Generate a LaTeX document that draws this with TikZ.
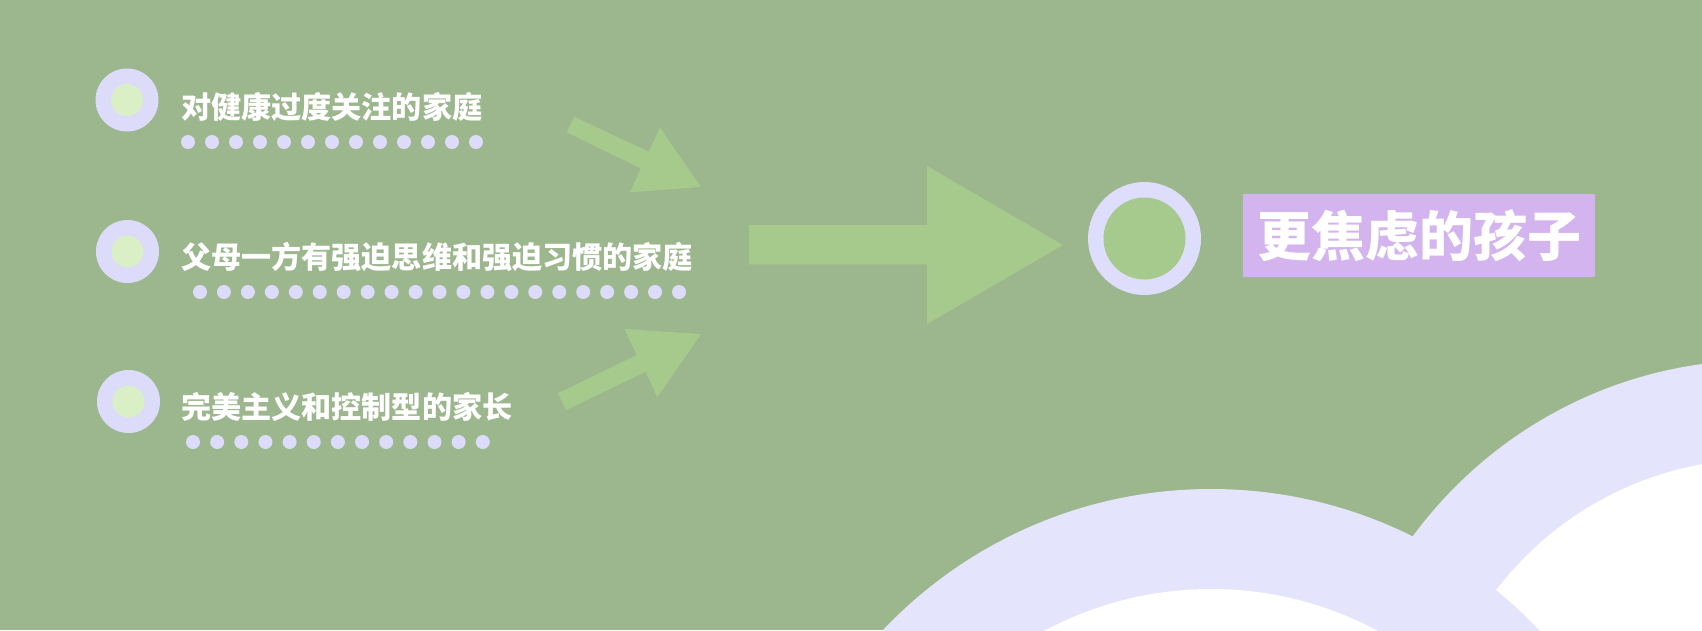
\documentclass[tikz,border=0pt]{standalone}
\usepackage{fontspec}
\newfontfamily\cjk{Noto Sans CJK SC}
\definecolor{bg}{HTML}{9CB78E}
\definecolor{arr}{HTML}{A5CA8C}
\definecolor{lav}{HTML}{DCDBFA}
\definecolor{lavbig}{HTML}{DEDDFB}
\definecolor{pale}{HTML}{DAEFC5}
\definecolor{ring}{HTML}{E4E4FC}
\definecolor{boxc}{HTML}{D3B4EF}
\definecolor{bigin}{HTML}{A6CA8D}
\tikzset{
  outerc/.style={circle, fill=lav, minimum size=63pt, inner sep=0pt},
  innerc/.style={circle, fill=pale, minimum size=32pt, inner sep=0pt},
  dotc/.style={circle, fill=lav, minimum size=14pt, inner sep=0pt},
  lbl/.style={anchor=west, inner sep=0pt, text=white, font=\cjk\bfseries\fontsize{30.1}{33}\selectfont},
  blockarrow/.style={fill=arr},
}
\begin{document}
\begin{tikzpicture}[x=1pt,y=-1pt]
\useasboundingbox (0,0) rectangle (1702,630);
\fill[bg] (0,0) rectangle (1702,630);
\begin{scope}
  \clip (0,0) rectangle (1702,630);
  \fill[ring] (1761,792) circle (432pt);
  \fill[white] (1761,792) circle (333pt);
  \fill[ring] (1211,941) circle (452pt);
  \fill[white] (1211,941) circle (352pt);
\end{scope}
% item circles
\node[outerc] (c1) at (127,100) {};
\node[innerc] (c1i) at (c1) {};
\node[outerc] (c2) at (127.5,251.5) {};
\node[innerc] (c2i) at (c2) {};
\node[outerc] (c3) at (128.5,401.5) {};
\node[innerc] (c3i) at (c3) {};
% labels
\node[lbl] (t1) at (181,107) {对健康过度关注的家庭};
\node[lbl] (t2) at (181,257) {父母一方有强迫思维和强迫习惯的家庭};
\node[lbl] (t3) at (181,406.5) {完美主义和控制型的家长};
% dots
\foreach \i in {0,...,12} \node[dotc] (da\i) at (188+24*\i,142) {};
\foreach \i in {0,...,20} \node[dotc] (db\i) at (200+23.95*\i,292) {};
\foreach \i in {0,...,12} \node[dotc] (dc\i) at (193+24.15*\i,442) {};
% arrows
\fill[blockarrow] (574,116.7) -- (648.7,151.7) -- (660,127.7) -- (701,187) -- (630,192.3) -- (640.7,168.3) -- (566.7,132.3) -- cycle;
\fill[blockarrow] (558,393.3) -- (636.7,355) -- (624.7,329) -- (701,334) -- (657.3,397.3) -- (645.7,371.7) -- (566,410) -- cycle;
\fill[blockarrow] (749,225) -- (927,225) -- (927,166) -- (1063,245) -- (927,324) -- (927,264.3) -- (749,264.3) -- cycle;
% result
\node[circle, fill=lavbig, minimum size=113pt, inner sep=0pt] (big) at (1144.5,238.5) {};
\node[circle, fill=bigin, minimum size=82pt, inner sep=0pt] (bigi) at (big) {};
\node[fill=boxc, minimum width=352pt, minimum height=83pt, inner sep=0pt, text=white, font=\cjk\bfseries\fontsize{54}{60}\selectfont] (res) at (1419,235.7) {更焦虑的孩子};
\end{tikzpicture}
\end{document}
